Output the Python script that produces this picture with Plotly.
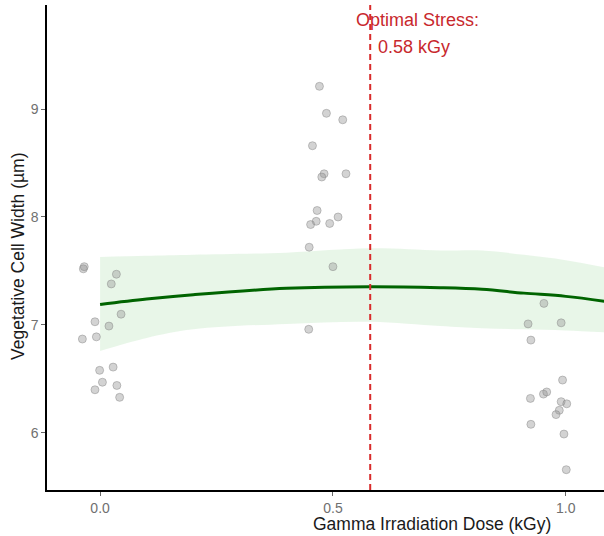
import plotly.graph_objects as go

# ---- data ----
dose_0_x = [-0.036, -0.034, 0.035, 0.024, 0.045, -0.011, 0.019, -0.038, -0.008,
            -0.001, 0.028, 0.005, -0.011, 0.036, 0.042]
dose_0_y = [7.52, 7.54, 7.47, 7.38, 7.10, 7.03, 6.99, 6.87, 6.89,
            6.58, 6.61, 6.47, 6.40, 6.44, 6.33]

dose_05_x = [0.471, 0.486, 0.521, 0.456, 0.481, 0.476, 0.528, 0.466, 0.464,
             0.452, 0.493, 0.511, 0.449, 0.500, 0.448]
dose_05_y = [9.21, 8.96, 8.90, 8.66, 8.40, 8.37, 8.40, 8.06, 7.96,
             7.93, 7.94, 8.00, 7.72, 7.54, 6.96]

dose_1_x = [0.953, 0.919, 0.990, 0.925, 0.993, 0.924, 0.952, 0.959, 0.990,
            1.002, 0.986, 0.979, 0.925, 0.996, 1.001]
dose_1_y = [7.20, 7.01, 7.02, 6.86, 6.49, 6.32, 6.36, 6.38, 6.29,
            6.27, 6.21, 6.17, 6.08, 5.99, 5.66]

fit_x = [0.0, 0.1, 0.2, 0.4, 0.58, 0.73, 0.82, 0.91, 1.0, 1.1]
fit_y = [7.19, 7.24, 7.28, 7.34, 7.355, 7.345, 7.33, 7.295, 7.265, 7.21]
ci_upper = [7.63, 7.64, 7.65, 7.67, 7.71, 7.69, 7.69, 7.65, 7.60, 7.52]
ci_lower = [6.76, 6.88, 6.96, 7.01, 7.03, 6.99, 6.97, 6.96, 6.95, 6.93]

optimal_dose = 0.58
x_ticks = [0.0, 0.5, 1.0]
x_tick_labels = ["0.0", "0.5", "1.0"]
y_ticks = [6, 7, 8, 9]

FONT = "Liberation Sans, Arial, sans-serif"

fig = go.Figure()

# confidence ribbon
fig.add_trace(go.Scatter(x=fit_x, y=ci_upper, mode="lines", line=dict(width=0, shape="spline"),
                         hoverinfo="skip", showlegend=False))
fig.add_trace(go.Scatter(x=fit_x, y=ci_lower, mode="lines", line=dict(width=0, shape="spline"),
                         fill="tonexty", fillcolor="rgba(120,200,120,0.17)",
                         hoverinfo="skip", showlegend=False))

# points
all_x = dose_0_x + dose_05_x + dose_1_x
all_y = dose_0_y + dose_05_y + dose_1_y
fig.add_trace(go.Scatter(x=all_x, y=all_y, mode="markers",
                         marker=dict(size=8, color="rgba(150,150,150,0.42)",
                                     line=dict(width=1, color="rgba(130,130,130,0.45)")),
                         showlegend=False))

# fitted curve
fig.add_trace(go.Scatter(x=fit_x, y=fit_y, mode="lines",
                         line=dict(color="#006400", width=3, shape="spline"),
                         showlegend=False))

# optimal dose line
fig.add_shape(type="line", x0=optimal_dose, x1=optimal_dose, xref="x", yref="paper",
              y0=0, y1=1, line=dict(color="#d92b2b", width=2, dash="6px,4px"), layer="above")

fig.add_annotation(x=0.682, y=9.82, xref="x", yref="y", text="Optimal Stress:",
                   showarrow=False, font=dict(family=FONT, size=18, color="#c8282d"),
                   xanchor="center", yanchor="middle")
fig.add_annotation(x=0.673, y=9.57, xref="x", yref="y", text=f"{optimal_dose:.2f} kGy",
                   showarrow=False, font=dict(family=FONT, size=18, color="#c8282d"),
                   xanchor="center", yanchor="middle")

# axis titles as annotations
fig.add_annotation(x=(432 - 47) / 557, y=-0.07, xref="paper", yref="paper",
                   text="Gamma Irradiation Dose (kGy)", showarrow=False,
                   font=dict(family=FONT, size=17.5, color="#1a1a1a"),
                   xanchor="center", yanchor="middle")
fig.add_annotation(x=-0.052, y=0.4825, xref="paper", yref="paper",
                   text="Vegetative Cell Width (µm)", showarrow=False, textangle=-90,
                   font=dict(family=FONT, size=17.5, color="#1a1a1a"),
                   xanchor="center", yanchor="middle")

fig.update_layout(
    width=604, height=536,
    margin=dict(l=47, r=0, t=5, b=46),
    plot_bgcolor="white", paper_bgcolor="white",
    font=dict(family=FONT),
    showlegend=False,
)
fig.update_xaxes(range=[-0.114, 1.082], tickvals=x_ticks, ticktext=x_tick_labels,
                 showgrid=False, zeroline=False, showline=True, linecolor="black", linewidth=1.5,
                 ticks="outside", ticklen=4, tickcolor="#666666", tickwidth=1,
                 tickfont=dict(family=FONT, size=14, color="#707070"))
fig.update_yaxes(range=[5.472, 9.963], tickvals=y_ticks,
                 showgrid=False, zeroline=False, showline=True, linecolor="black", linewidth=1.5,
                 ticks="outside", ticklen=4, tickcolor="#666666", tickwidth=1,
                 tickfont=dict(family=FONT, size=14, color="#707070"))

fig.write_html("out.html", config={"displayModeBar": False},
               post_script="document.body.style.margin='0';document.body.style.overflow='hidden';")
